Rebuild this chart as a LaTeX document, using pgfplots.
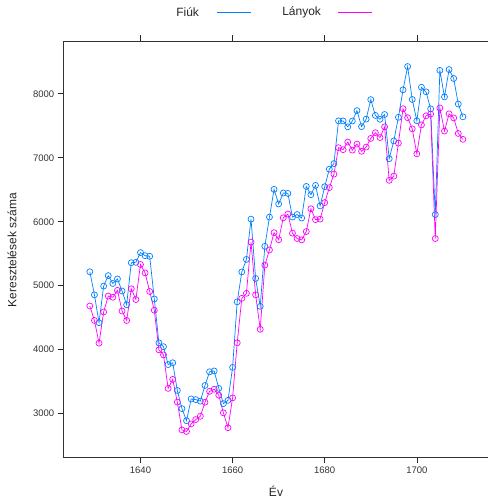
\documentclass[border=0pt]{standalone}
\usepackage{pgfplots}
\pgfplotsset{compat=1.18}
\usepackage{pgfplotstable}
\usepackage{fontspec}
\setmainfont{Liberation Sans}
\definecolor{fiuk}{HTML}{0080FF}
\definecolor{lanyok}{HTML}{FF00FF}
\pgfplotstableread{
ev fiuk lanyok
1629 5218 4683
1630 4858 4457
1631 4422 4102
1632 4994 4590
1633 5158 4839
1634 5035 4820
1635 5106 4928
1636 4917 4605
1637 4703 4457
1638 5359 4952
1639 5366 4784
1640 5518 5332
1641 5470 5200
1642 5460 4910
1643 4793 4617
1644 4107 3997
1645 4047 3919
1646 3768 3395
1647 3796 3536
1648 3363 3181
1649 3079 2746
1650 2890 2722
1651 3231 2840
1652 3220 2908
1653 3196 2959
1654 3441 3179
1655 3655 3349
1656 3668 3382
1657 3396 3289
1658 3157 3013
1659 3209 2781
1660 3724 3247
1661 4748 4107
1662 5216 4803
1663 5411 4881
1664 6041 5681
1665 5114 4858
1666 4678 4319
1667 5616 5322
1668 6073 5560
1669 6506 5829
1670 6278 5719
1671 6449 6061
1672 6443 6120
1673 6073 5822
1674 6113 5738
1675 6058 5717
1676 6552 5847
1677 6423 6203
1678 6568 6033
1679 6247 6041
1680 6548 6299
1681 6822 6533
1682 6909 6744
1683 7577 7158
1684 7575 7127
1685 7484 7246
1686 7575 7119
1687 7737 7214
1688 7487 7101
1689 7604 7167
1690 7909 7302
1691 7662 7392
1692 7602 7316
1693 7676 7483
1694 6985 6647
1695 7263 6713
1696 7632 7229
1697 8062 7767
1698 8426 7626
1699 7911 7452
1700 7578 7061
1701 8102 7514
1702 8031 7656
1703 7765 7683
1704 6113 5738
1705 8366 7779
1706 7952 7417
1707 8379 7687
1708 8239 7623
1709 7840 7380
1710 7640 7288
}\datatable
\begin{document}
\begin{tikzpicture}
\useasboundingbox (0pt,0pt) rectangle (488pt,499pt);
\begin{axis}[
  at={(63.7pt,42pt)}, anchor=south west,
  scale only axis, width=425.3pt, height=416pt,
  xmin=1623.33, xmax=1715.67, ymin=2323, ymax=8825,
  xtick={1640,1660,1680,1700}, ytick={3000,4000,5000,6000,7000,8000},
  xtick pos=both, ytick pos=both, xticklabel pos=lower, yticklabel pos=left,
  tick align=outside, major tick length=6pt,
  tick style={black!85, line width=0.6pt},
  axis line style={black!80, line width=0.8pt},
  /pgf/number format/assume math mode=true,
  /pgf/number format/1000 sep={},
  ticklabel style={font=\fontsize{9.5}{11}\selectfont, text=black!80},
  clip=false,
]
\addplot[color=fiuk, line width=0.7pt, mark=o, mark size=3pt, mark options={line width=0.7pt}] table[x=ev, y=fiuk] {\datatable};
\addplot[color=lanyok, line width=0.7pt, mark=o, mark size=3pt, mark options={line width=0.7pt}] table[x=ev, y=lanyok] {\datatable};
\end{axis}
\node[anchor=east, font=\fontsize{12}{14}\selectfont, text=black!85] at (202.5pt,487pt) {Fiúk};
\draw[fiuk, line width=0.8pt] (217pt,487pt) -- (251pt,487pt);
\node[anchor=east, font=\fontsize{12}{14}\selectfont, text=black!85] at (324.5pt,487pt) {Lányok};
\draw[lanyok, line width=0.8pt] (338pt,487pt) -- (372pt,487pt);
\node[rotate=90, font=\fontsize{12}{14}\selectfont, text=black!85] at (12pt,249pt) {Keresztelések száma};
\node[font=\fontsize{12}{14}\selectfont, text=black!85] at (276pt,8pt) {Év};
\end{tikzpicture}
\end{document}
